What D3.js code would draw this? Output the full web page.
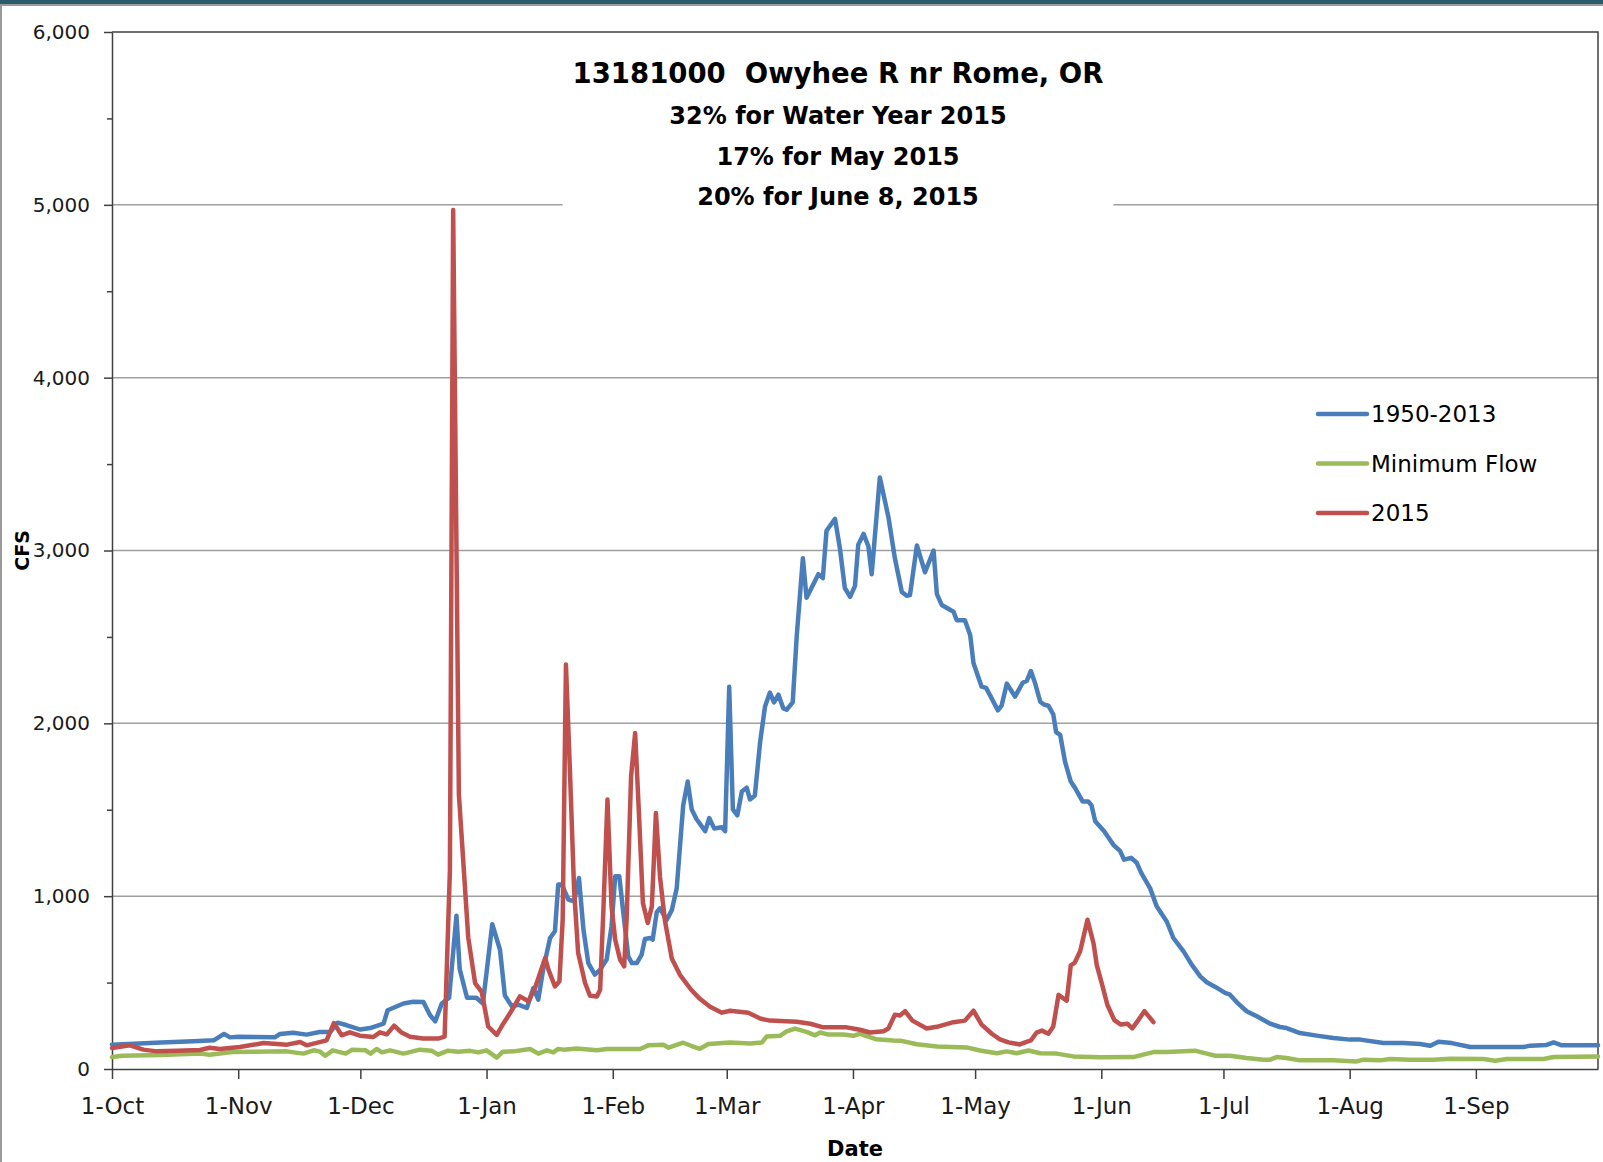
<!DOCTYPE html>
<html>
<head>
<meta charset="utf-8">
<script src="https://cdn.jsdelivr.net/npm/d3@7"></script>
<style>
  html, body { margin: 0; padding: 0; background: #fff; }
  svg { display: block; }
  .axis path, .axis line { stroke: #404040; }
  .axis text { fill: #1a1a1a; font-family: "DejaVu Sans", sans-serif; }
  .title text { white-space: pre; }
</style>
</head>
<body>
<script>

// day offsets from 1-Oct-2014, CFS values
var avgFlow = [[0,141],[12,154],[20,160],[25,166],[27.5,203],[29,183],[31,187],[40,183],[41.3,203],[44.5,210],[47.8,199],[51,214],[53.6,214],[55.4,268],[57.7,253],[61,228],[63.4,237],[66.7,262],[67.7,340],[71.6,379],[74,389],[76.5,388],[78.1,312],[79.4,276],[81,379],[82.8,412],[84.6,887],[85.4,579],[87.2,412],[89.5,412],[91.1,379],[93.4,838],[95.3,690],[96.5,425],[98.2,363],[99.8,372],[101.9,353],[103.5,469],[104.7,401],[105.9,575],[107.6,758],[108.8,797],[109.6,1067],[110.5,1067],[112.1,980],[113.5,970],[114.7,1105],[115.8,806],[117,613],[118.6,546],[119.9,575],[121.5,633],[122.7,826],[123.6,1115],[124.6,1115],[125.6,903],[126.8,652],[127.7,613],[128.9,613],[130.1,662],[130.9,752],[132.2,758],[132.8,748],[133.8,907],[134.6,930],[136.2,861],[137.5,919],[138.7,1044],[140.3,1525],[141.4,1663],[142.4,1502],[143.6,1445],[145.7,1376],[146.7,1452],[147.9,1392],[149.8,1399],[150.6,1376],[151.6,2211],[152.5,1502],[153.6,1468],[154.7,1605],[155.9,1628],[156.7,1560],[157.9,1583],[159.2,1892],[160.4,2098],[161.6,2178],[162.6,2121],[163.7,2166],[164.9,2086],[165.7,2079],[167.2,2121],[168.2,2509],[169.7,2955],[170.6,2726],[172.3,2806],[173.5,2863],[174.6,2840],[175.5,3114],[177.6,3183],[178.8,3011],[180,2783],[181.3,2732],[182.5,2795],[183.3,3034],[184.6,3096],[185.8,3023],[186.6,2863],[188.6,3423],[190.7,3194],[192.3,2955],[194,2760],[195.2,2738],[196,2742],[197.7,3029],[199.7,2874],[201.8,3000],[202.6,2749],[203.8,2685],[206.7,2646],[207.5,2596],[209.5,2596],[210.8,2509],[211.6,2349],[213.6,2212],[214.7,2205],[216.1,2143],[217.6,2075],[218.5,2102],[219.8,2230],[221.8,2155],[223.7,2235],[224.7,2246],[225.7,2303],[226.7,2235],[228,2125],[228.9,2109],[230,2102],[231.2,2052],[231.9,1949],[232.9,1933],[234.1,1777],[235.5,1663],[236.5,1628],[238.4,1548],[239.8,1548],[240.6,1525],[241.5,1434],[243.7,1376],[246,1296],[247.6,1262],[248.6,1211],[250.3,1222],[251.7,1193],[252.9,1130],[255,1045],[256.6,941],[259.1,852],[260.7,758],[263.2,681],[265.2,604],[267.3,536],[268.9,502],[271,475],[273.4,440],[274.6,430],[276.3,386],[278.7,334],[281.2,305],[284.5,262],[286.9,243],[288.5,237],[291.8,208],[295.9,193],[300,179],[304.1,170],[306.6,170],[312.3,150],[317.2,150],[321.3,145],[323.8,135],[325.8,158],[329.1,150],[333.6,127],[346.7,127],[348.3,135],[352.4,139],[354.1,154],[356.1,137],[365,137]];

var minFlow = [[0,69],[2.5,77],[12,81],[21.6,89],[24,83],[29.5,98],[42.9,102],[47,89],[49.5,108],[51,102],[52.4,77],[54.2,108],[57.4,89],[59,112],[62.3,108],[63.5,89],[65,116],[66.3,96],[68.3,108],[71.6,89],[75.6,112],[78.5,106],[80.1,83],[82.5,106],[85,100],[88,105],[90,96],[92,108],[94.5,66],[96,100],[98.6,102],[102.7,116],[104.7,89],[106.8,108],[108.4,96],[109.6,116],[110.9,112],[114.1,118],[119.1,108],[121.5,116],[129.7,116],[131.7,137],[135.4,141],[136.7,123],[140.3,152],[142.4,133],[144.4,117],[146.5,145],[151.8,153],[156.7,148],[159.6,153],[160.8,188],[164.1,192],[165.7,217],[167.8,234],[170.6,215],[172.7,195],[173.9,211],[176,199],[179.6,199],[182.1,192],[183.7,204],[187.8,172],[191.9,165],[193.6,164],[197.7,143],[202.6,130],[209.9,125],[213.2,107],[217.3,91],[219.8,102],[222.2,91],[225.1,107],[228,91],[232,89],[236.1,73],[242.7,68],[250.9,69],[253.3,83],[255.8,98],[259.1,98],[263.2,102],[266,106],[268.9,89],[271,77],[274.6,77],[278.7,64],[282.8,54],[284.5,54],[286.1,69],[288.5,64],[291.8,50],[300,50],[305.7,44],[307.4,54],[311.5,50],[313.9,58],[318.8,54],[324.6,54],[328.7,60],[336.9,58],[339.7,48],[342.6,58],[351.6,58],[354.1,69],[365,73]];

var flow2015 = [[0,122],[4.4,137],[7.7,112],[11,102],[16,106],[21.6,110],[24,123],[26.5,116],[31.4,127],[37.2,150],[43,141],[46.2,156],[47.8,137],[52.7,166],[54.5,266],[56.4,195],[58.4,212],[60.9,193],[64.2,185],[65.8,212],[67.5,200],[69.3,251],[71,213],[73.2,187],[76.4,176],[80.1,176],[81.7,187],[83,1150],[83.8,4970],[85.2,1590],[87.5,761],[89.2,495],[90.8,447],[92.4,246],[94.5,197],[96.1,262],[97.8,324],[100.2,420],[102.3,392],[103.9,469],[106.4,642],[107.2,575],[108.8,478],[109.9,507],[110.7,864],[111.5,2340],[112.5,1713],[113.5,1038],[114.5,671],[116.2,498],[117.4,424],[119.1,420],[119.9,459],[120.7,922],[121.7,1559],[122.7,941],[123.6,748],[124.8,633],[125.8,594],[126.4,864],[127.5,1694],[128.5,1944],[129.5,1443],[130.4,961],[131.6,845],[132.6,941],[133.6,1481],[134.6,1113],[135.8,860],[137.5,640],[139.5,545],[142.2,460],[144.4,406],[146.9,360],[149.8,326],[151.8,337],[156.3,326],[159.2,292],[161.6,280],[168.2,273],[171.5,262],[174.7,241],[180.5,241],[183.7,227],[186.2,211],[189.5,218],[190.7,234],[192.3,314],[193.6,310],[194.8,335],[196.6,280],[200.1,234],[202.6,244],[206.7,271],[209.5,280],[211.6,337],[213.6,257],[216.1,204],[218.1,172],[220.2,154],[223,142],[224.3,154],[225.7,165],[227.1,211],[228.4,222],[230,204],[231.2,246],[232.5,429],[234.5,395],[235.5,600],[236.5,616],[237.8,681],[239.6,864],[241.1,726],[241.9,600],[243.1,497],[244.5,370],[246.2,283],[247.8,257],[249.4,262],[250.6,235],[252.1,283],[253.6,335],[255.8,271]];

var seriesNames = ["1950-2013", "Minimum Flow", "2015"];
var seriesColors = ["#4a7ebb", "#9bbb59", "#c0504d"];
var yTicks = [0, 1000, 2000, 3000, 4000, 5000, 6000];
var yMinorTicks = [500, 1500, 2500, 3500, 4500, 5500];
var titleLines = ["13181000  Owyhee R nr Rome, OR", "32% for Water Year 2015", "17% for May 2015", "20% for June 8, 2015"];

var width = 1603, height = 1162;
var margin = {top: 32, right: 5, bottom: 93, left: 112};

var START = new Date(2014, 9, 1), END = new Date(2015, 9, 1);
function dayToDate(d) { return new Date(START.getTime() + d * 864e5); }

var x = d3.scaleTime().domain([START, END]).range([margin.left, width - margin.right]);
var y = d3.scaleLinear().domain([0, 6000]).range([height - margin.bottom, margin.top]);

var svg = d3.select("body").append("svg")
    .attr("width", width)
    .attr("height", height);

// frame bits from the screenshot
svg.append("rect").attr("x", 0).attr("y", 0).attr("width", width).attr("height", 4).attr("fill", "#2a5a6b");
svg.append("rect").attr("x", 0).attr("y", 4).attr("width", width).attr("height", 2).attr("fill", "#9a9a9a");
svg.append("rect").attr("x", 0).attr("y", 4).attr("width", 2).attr("height", height).attr("fill", "#9a9a9a");

// gridlines
svg.append("g")
  .selectAll("line")
  .data(yTicks.filter(function(d) { return d > 0 && d < 6000; }))
  .enter().append("line")
    .attr("x1", x.range()[0]).attr("x2", x.range()[1])
    .attr("y1", function(d) { return y(d); }).attr("y2", function(d) { return y(d); })
    .attr("stroke", "#a0a0a0").attr("stroke-width", 1.5);

// plot border top / right
svg.append("path")
  .attr("d", "M" + x.range()[0] + "," + y(6000) + "H" + x.range()[1] + "V" + y(0))
  .attr("fill", "none").attr("stroke", "#404040").attr("stroke-width", 1.5);

// title with white box behind
var title = svg.append("g").attr("class", "title");
title.selectAll("text")
  .data(titleLines)
  .enter().append("text")
    .attr("x", (x.range()[0] + x.range()[1]) / 2 - 17)
    .attr("y", function(d, i) { return i === 0 ? 83 : 124 + (i - 1) * 40.7; })
    .attr("text-anchor", "middle")
    .style("font-family", "'DejaVu Sans', sans-serif")
    .style("font-weight", "bold")
    .style("font-size", function(d, i) { return i === 0 ? "27.5px" : "24px"; })
    .attr("fill", "#000")
    .text(function(d) { return d; });
var tb = title.node().getBBox();
title.insert("rect", "text")
  .attr("x", tb.x - 10).attr("y", tb.y - 6)
  .attr("width", tb.width + 20).attr("height", tb.height + 10)
  .attr("fill", "#fff");

// y axis
svg.append("g")
    .attr("class", "axis axis--y")
    .attr("transform", "translate(" + x.range()[0] + ",0)")
    .call(d3.axisLeft(y).tickValues(yTicks).tickFormat(d3.format(",")).tickSize(8).tickSizeOuter(0).tickPadding(14))
    .call(function(g) {
      g.select(".domain").attr("stroke-width", 1.5);
      g.selectAll(".tick line").attr("stroke-width", 1.5);
      g.selectAll("text").style("font-size", "20px");
    });

svg.append("g")
    .attr("class", "axis")
    .attr("transform", "translate(" + x.range()[0] + ",0)")
    .call(d3.axisLeft(y).tickValues(yMinorTicks).tickFormat("").tickSize(5).tickSizeOuter(0))
    .call(function(g) {
      g.select(".domain").remove();
      g.selectAll(".tick line").attr("stroke-width", 1.5);
    });

// x axis
svg.append("g")
    .attr("class", "axis axis--x")
    .attr("transform", "translate(0," + y(0) + ")")
    .call(d3.axisBottom(x).tickValues(d3.timeMonth.range(START, END)).tickFormat(d3.timeFormat("%-d-%b")).tickSize(10).tickSizeOuter(0).tickPadding(19))
    .call(function(g) {
      g.select(".domain").attr("stroke-width", 1.5);
      g.selectAll(".tick line").attr("stroke-width", 1.5);
      g.selectAll("text").style("font-size", "23px");
    });

// series
var line = d3.line()
  .x(function(d) { return x(dayToDate(d[0])); })
  .y(function(d) { return y(d[1]); });

var series = [avgFlow, minFlow, flow2015];
svg.append("g")
  .selectAll("path")
  .data(series)
  .enter().append("path")
    .attr("d", line)
    .attr("fill", "none")
    .attr("stroke", function(d, i) { return seriesColors[i]; })
    .attr("stroke-width", 4.5)
    .attr("stroke-linejoin", "round")
    .attr("stroke-linecap", "round");

// legend
var legend = svg.append("g").attr("transform", "translate(1318,414)");
var item = legend.selectAll("g")
  .data(seriesNames)
  .enter().append("g")
    .attr("transform", function(d, i) { return "translate(0," + i * 49.5 + ")"; });
item.append("line")
    .attr("x1", 0).attr("x2", 49)
    .attr("stroke", function(d, i) { return seriesColors[i]; })
    .attr("stroke-width", 4.5)
    .attr("stroke-linecap", "round");
item.append("text")
    .attr("x", 53)
    .attr("dy", "0.36em")
    .style("font-family", "'DejaVu Sans', sans-serif")
    .style("font-size", "23px")
    .attr("fill", "#000")
    .text(function(d) { return d; });

// axis titles
svg.append("text")
    .attr("x", (x.range()[0] + x.range()[1]) / 2)
    .attr("y", 1156)
    .attr("text-anchor", "middle")
    .style("font-family", "'DejaVu Sans', sans-serif")
    .style("font-weight", "bold")
    .style("font-size", "21px")
    .text("Date");

svg.append("text")
    .attr("transform", "translate(29," + (y(3000)) + ") rotate(-90)")
    .attr("text-anchor", "middle")
    .style("font-family", "'DejaVu Sans', sans-serif")
    .style("font-weight", "bold")
    .style("font-size", "19px")
    .text("CFS");

</script>
</body>
</html>
